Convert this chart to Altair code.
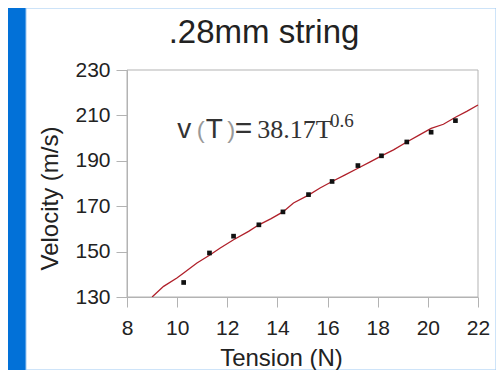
import altair as alt
import pandas as pd

# measured points
tension = [10.26, 11.29, 12.25, 13.26, 14.22, 15.24, 16.18, 17.21, 18.15, 19.16, 20.13, 21.10]
velocity = [136.4, 149.4, 156.8, 161.8, 167.5, 175.1, 180.9, 187.9, 192.2, 198.3, 202.6, 207.7]

# fitted curve
curve_t = [9.0, 9.46, 9.99, 10.26, 10.79, 11.29, 11.72, 12.25, 12.85, 13.26, 13.75, 14.22,
           14.64, 15.24, 15.70, 16.18, 16.70, 17.21, 17.70, 18.15, 18.63, 19.16, 19.65,
           20.13, 20.62, 21.10, 21.55, 22.0]
curve_v = [130.0, 134.7, 138.4, 140.6, 145.0, 148.4, 151.6, 155.2, 158.9, 161.8, 164.5, 167.5,
           171.4, 174.9, 178.0, 180.9, 183.8, 186.7, 189.5, 192.2, 194.8, 198.3, 201.3,
           204.3, 206.1, 209.2, 211.8, 214.6]

x_ticks = [8, 10, 12, 14, 16, 18, 20, 22]
y_ticks = [130, 150, 170, 190, 210, 230]

title_text = ".28mm string"

pts = pd.DataFrame({"T": tension, "v": velocity})
crv = pd.DataFrame({"T": curve_t, "v": curve_v})
one = pd.DataFrame({"a": [0]})

GRAY = "#b3b3b3"
xs = alt.Scale(domain=[8, 22], nice=False, zero=False)
ys = alt.Scale(domain=[130, 230], nice=False, zero=False)

xaxis = alt.Axis(values=x_ticks, title="Tension (N)", grid=False, domainColor=GRAY,
                 tickColor=GRAY, tickSize=10, labelFontSize=21, labelFont="Liberation Sans",
                 labelColor="#222", labelPadding=10, labelFlush=False, titleFontSize=24,
                 titleFont="Liberation Sans", titleFontWeight="normal", titleColor="#222",
                 titleX=154, titleY=61, titleBaseline="middle", zindex=1)
yaxis = alt.Axis(values=y_ticks, title="Velocity (m/s)", grid=False, domainColor=GRAY,
                 tickColor=GRAY, tickSize=11, labelFontSize=21, labelFont="Liberation Sans",
                 labelColor="#222", labelPadding=6, labelFlush=False, titleFontSize=24,
                 titleFont="Liberation Sans", titleFontWeight="normal", titleColor="#222",
                 titleX=-77, titleY=128, titleBaseline="middle", zindex=1)

def X(f=None, datum=None):
    if datum is not None:
        return alt.X(datum=datum, type="quantitative", scale=xs, axis=xaxis)
    return alt.X(f, type="quantitative", scale=xs, axis=xaxis)

def Y(f=None, datum=None):
    if datum is not None:
        return alt.Y(datum=datum, type="quantitative", scale=ys, axis=yaxis)
    return alt.Y(f, type="quantitative", scale=ys, axis=yaxis)

bg = alt.Chart(one).mark_rect(fill="white", stroke="#9cc8f2", strokeWidth=1).encode(
    x=alt.value(-101), x2=alt.value(369), y=alt.value(-62), y2=alt.value(300)
)

frame = alt.Chart(one).mark_rect(filled=False, stroke=GRAY, strokeWidth=1).encode(
    x=X(datum=8), x2=alt.X2(datum=22), y=Y(datum=130), y2=alt.Y2(datum=230)
)

line = alt.Chart(crv).mark_line(color="#b0202a", strokeWidth=1.3).encode(
    x=X("T"), y=Y("v"), order="T:Q"
)

points = alt.Chart(pts).mark_square(size=22, color="#111", opacity=1).encode(
    x=X("T"), y=Y("v")
)

title = alt.Chart(one).mark_text(text=title_text, align="center", baseline="alphabetic",
                                 fontSize=33, font="Liberation Sans", color="#222").encode(
    x=alt.value(137), y=alt.value(-27)
)

def txt(s, t, v, size, font, color):
    return alt.Chart(one).mark_text(text=s, align="left", baseline="alphabetic",
                                    fontSize=size, font=font, color=color).encode(
        x=X(datum=t), y=Y(datum=v)
    )

eq = [
    txt("v", 10.0, 200.1, 28, "Liberation Sans", "#333"),
    txt("(", 10.78, 200.1, 24, "Liberation Sans", "#999"),
    txt("T", 11.14, 200.1, 28, "Liberation Sans", "#333"),
    txt(")", 12.0, 200.1, 24, "Liberation Sans", "#999"),
    txt("=", 12.3, 200.1, 30, "Liberation Sans", "#333"),
    txt("38.17T", 13.2, 200.1, 26, "Liberation Serif", "#333"),
    txt("0.6", 16.1, 204.9, 19, "Liberation Serif", "#333"),
]

chart = alt.layer(bg, frame, line, points, title, *eq).properties(
    width=351, height=227,
    padding={"left": 119, "top": 62, "right": 18, "bottom": 73},
    autosize="none",
    background="#0271d8",
).configure_view(strokeWidth=0)

chart.save("out.html", embed_options={"renderer": "svg", "actions": False})
